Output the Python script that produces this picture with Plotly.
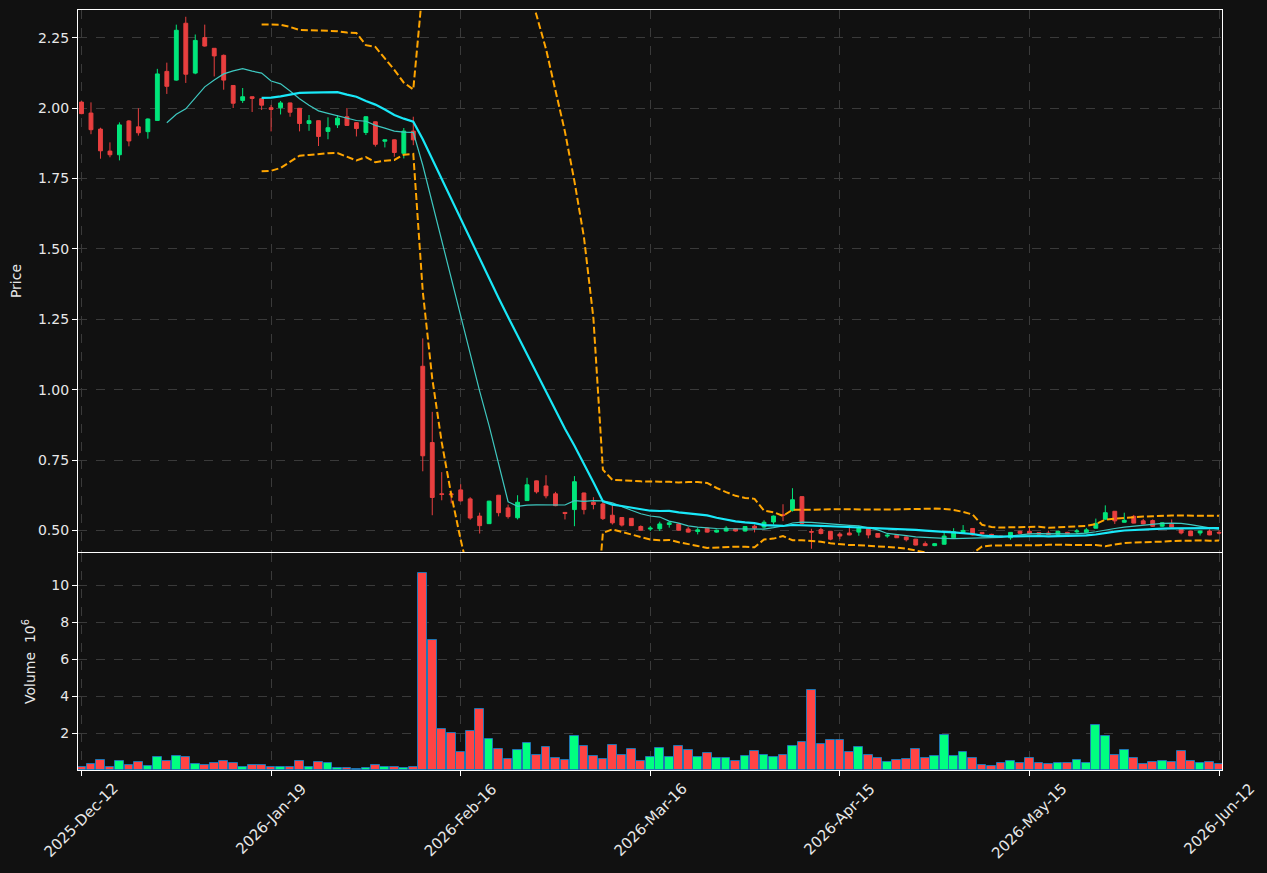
import plotly.graph_objects as go
import pandas as pd

# ---------------- data ----------------
opens = [2.021, 1.982, 1.925, 1.847, 1.834, 1.954, 1.933, 1.916, 1.956, 2.130,
         2.099, 2.301, 2.124, 2.250, 2.212, 2.187, 2.080, 2.027, 2.040, 2.033,
         2.001, 2.001, 2.018, 1.999, 1.945, 1.955, 1.917, 1.940, 1.969, 1.948,
         1.913, 1.951, 1.882, 1.887, 1.839, 1.918, 1.083, 0.812, 0.630, 0.630,
         0.644, 0.612, 0.551, 0.524, 0.625, 0.580, 0.545, 0.606, 0.676, 0.658,
         0.630, 0.564, 0.574, 0.633, 0.600, 0.594, 0.554, 0.546, 0.543, 0.514,
         0.505, 0.506, 0.521, 0.523, 0.505, 0.496, 0.508, 0.494, 0.498, 0.506,
         0.498, 0.515, 0.512, 0.530, 0.556, 0.571, 0.620, 0.496, 0.503, 0.497,
         0.487, 0.491, 0.494, 0.508, 0.489, 0.480, 0.483, 0.477, 0.469, 0.453,
         0.446, 0.451, 0.474, 0.493, 0.507, 0.493, 0.486, 0.480, 0.474, 0.497,
         0.497, 0.492, 0.491, 0.486, 0.493, 0.495, 0.493, 0.508, 0.540, 0.568,
         0.529, 0.550, 0.534, 0.535, 0.515, 0.522, 0.506, 0.498, 0.491, 0.498,
         0.493]
highs = [2.024, 2.020, 1.930, 1.878, 1.949, 1.957, 1.999, 1.963, 2.139, 2.161,
         2.296, 2.324, 2.261, 2.296, 2.213, 2.190, 2.081, 2.071, 2.041, 2.035,
         2.011, 2.025, 2.019, 2.000, 1.975, 1.956, 1.967, 1.975, 2.000, 1.949,
         1.970, 1.952, 1.888, 1.888, 1.929, 1.969, 1.182, 0.921, 0.707, 0.634,
         0.664, 0.618, 0.563, 0.605, 0.626, 0.592, 0.625, 0.687, 0.677, 0.696,
         0.637, 0.565, 0.693, 0.634, 0.618, 0.604, 0.590, 0.547, 0.543, 0.518,
         0.516, 0.531, 0.533, 0.525, 0.512, 0.510, 0.510, 0.503, 0.515, 0.507,
         0.515, 0.521, 0.536, 0.553, 0.593, 0.650, 0.621, 0.506, 0.510, 0.498,
         0.493, 0.511, 0.516, 0.509, 0.490, 0.488, 0.484, 0.478, 0.470, 0.461,
         0.455, 0.496, 0.508, 0.519, 0.508, 0.494, 0.488, 0.482, 0.494, 0.499,
         0.510, 0.494, 0.499, 0.498, 0.495, 0.505, 0.509, 0.542, 0.589, 0.569,
         0.563, 0.555, 0.541, 0.539, 0.528, 0.539, 0.507, 0.499, 0.499, 0.504,
         0.500]
lows = [1.978, 1.907, 1.820, 1.825, 1.814, 1.864, 1.902, 1.891, 1.955, 2.050,
        2.097, 2.089, 2.120, 2.218, 2.112, 2.065, 2.000, 2.018, 1.986, 1.993,
        1.917, 1.977, 1.969, 1.917, 1.919, 1.865, 1.889, 1.929, 1.937, 1.899,
        1.904, 1.863, 1.860, 1.827, 1.821, 1.868, 0.710, 0.554, 0.607, 0.596,
        0.603, 0.538, 0.489, 0.523, 0.550, 0.542, 0.539, 0.605, 0.631, 0.614,
        0.586, 0.539, 0.515, 0.557, 0.575, 0.537, 0.521, 0.514, 0.516, 0.500,
        0.498, 0.498, 0.510, 0.499, 0.492, 0.486, 0.492, 0.492, 0.496, 0.496,
        0.496, 0.493, 0.506, 0.521, 0.533, 0.567, 0.522, 0.435, 0.486, 0.465,
        0.469, 0.483, 0.481, 0.472, 0.475, 0.474, 0.473, 0.461, 0.447, 0.445,
        0.444, 0.450, 0.473, 0.492, 0.482, 0.486, 0.482, 0.477, 0.467, 0.488,
        0.487, 0.486, 0.485, 0.485, 0.487, 0.487, 0.492, 0.507, 0.538, 0.523,
        0.528, 0.525, 0.522, 0.513, 0.512, 0.511, 0.486, 0.480, 0.482, 0.483,
        0.486]
closes = [1.980, 1.923, 1.848, 1.834, 1.940, 1.883, 1.912, 1.961, 2.121, 2.077,
          2.276, 2.120, 2.240, 2.220, 2.185, 2.099, 2.017, 2.040, 2.034, 2.010,
          1.995, 2.018, 1.985, 1.945, 1.955, 1.899, 1.930, 1.964, 1.938, 1.927,
          1.969, 1.871, 1.887, 1.842, 1.918, 1.887, 0.765, 0.617, 0.628, 0.627,
          0.605, 0.544, 0.517, 0.604, 0.563, 0.549, 0.600, 0.662, 0.637, 0.623,
          0.588, 0.560, 0.673, 0.574, 0.592, 0.542, 0.527, 0.519, 0.517, 0.501,
          0.508, 0.523, 0.527, 0.501, 0.494, 0.502, 0.494, 0.501, 0.508, 0.498,
          0.514, 0.508, 0.529, 0.551, 0.553, 0.609, 0.525, 0.494, 0.489, 0.469,
          0.480, 0.484, 0.508, 0.484, 0.476, 0.483, 0.474, 0.467, 0.448, 0.446,
          0.453, 0.480, 0.495, 0.500, 0.484, 0.488, 0.484, 0.478, 0.493, 0.490,
          0.488, 0.487, 0.486, 0.497, 0.488, 0.498, 0.502, 0.525, 0.563, 0.534,
          0.536, 0.526, 0.523, 0.515, 0.527, 0.512, 0.491, 0.481, 0.498, 0.484,
          0.491]
volumes_m = [0.18, 0.31, 0.52, 0.14, 0.47, 0.25, 0.41, 0.23, 0.68, 0.47,
             0.74, 0.68, 0.31, 0.25, 0.36, 0.47, 0.36, 0.18, 0.25, 0.25,
             0.18, 0.18, 0.18, 0.47, 0.18, 0.41, 0.36, 0.09, 0.09, 0.04,
             0.09, 0.25, 0.14, 0.18, 0.09, 0.14, 10.63, 7.01, 2.20, 1.98,
             0.95, 2.09, 3.28, 1.69, 1.15, 0.58, 1.06, 1.44, 0.79, 1.23,
             0.63, 0.52, 1.82, 1.28, 0.74, 0.58, 1.33, 0.79, 1.12, 0.47,
             0.68, 1.17, 0.68, 1.28, 1.06, 0.68, 0.90, 0.63, 0.63, 0.47,
             0.74, 1.01, 0.79, 0.68, 0.79, 1.28, 1.50, 4.31, 1.39, 1.60,
             1.60, 0.95, 1.23, 0.79, 0.63, 0.41, 0.52, 0.58, 1.12, 0.63,
             0.74, 1.87, 0.74, 0.95, 0.63, 0.25, 0.20, 0.36, 0.47, 0.36,
             0.63, 0.36, 0.31, 0.36, 0.36, 0.52, 0.36, 2.41, 1.82, 0.79,
             1.06, 0.63, 0.31, 0.41, 0.47, 0.41, 1.01, 0.47, 0.36, 0.41,
             0.31]
tick_labels = ["2025-Dec-12", "2026-Jan-19", "2026-Feb-16", "2026-Mar-16",
               "2026-Apr-15", "2026-May-15", "2026-Jun-12"]
price_ticks = [0.50, 0.75, 1.00, 1.25, 1.50, 1.75, 2.00, 2.25]
volume_ticks = [2, 4, 6, 8, 10]
mav_periods = [10, 20]
bb_period = 20
bb_std = 2

# ---------------- styles ----------------
BG = "#111111"
UP_C = "#00e67b"
DN_C = "#e83f3f"
UP_V = "#00ff80"
DN_V = "#ff4444"
GRID = "#3a3a3a"
TXT = "#e8e8e8"
FONT = "DejaVu Sans"

n = len(closes)
x = list(range(n))
tick_pos = list(range(0, n, 20))
close_s = pd.Series(closes)
sma10 = close_s.rolling(mav_periods[0]).mean()
sma20 = close_s.rolling(mav_periods[1]).mean()
bb_mid = close_s.rolling(bb_period).mean()
bb_sd = close_s.rolling(bb_period).std()
bb_up = bb_mid + bb_std * bb_sd
bb_lo = bb_mid - bb_std * bb_sd

vol_colors = [UP_V if c >= o else DN_V for o, c in zip(opens, closes)]

fig = go.Figure()

# volume
fig.add_trace(go.Bar(x=x, y=volumes_m, xaxis="x", yaxis="y",
                     marker=dict(color=vol_colors, line=dict(color="#1f77b4", width=1)),
                     width=0.92, showlegend=False))

# candles
fig.add_trace(go.Candlestick(x=x, open=opens, high=highs, low=lows, close=closes,
                             xaxis="x2", yaxis="y2", whiskerwidth=0,
                             increasing=dict(line=dict(color=UP_C, width=1), fillcolor=UP_C),
                             decreasing=dict(line=dict(color=DN_C, width=1), fillcolor=DN_C),
                             showlegend=False))

# moving averages
fig.add_trace(go.Scatter(x=x, y=sma10, mode="lines", xaxis="x2", yaxis="y2",
                         line=dict(color="#3ec8c0", width=1.2), showlegend=False))
fig.add_trace(go.Scatter(x=x, y=sma20, mode="lines", xaxis="x2", yaxis="y2",
                         line=dict(color="#19e8f8", width=2.2), showlegend=False))

# bollinger bands
for band in (bb_up, bb_lo):
    fig.add_trace(go.Scatter(x=x, y=band, mode="lines", xaxis="x2", yaxis="y2",
                             line=dict(color="#ffa500", width=2, dash="7px,3px"),
                             showlegend=False))

xr = [-0.37, n - 1 + 0.31]
common_x = dict(range=xr, tickvals=tick_pos, showgrid=True,
                gridcolor=GRID, griddash="dash", gridwidth=1, zeroline=False,
                showline=True, mirror=True, linecolor="white", linewidth=1.3)
common_y = dict(showgrid=True, gridcolor=GRID, griddash="dash", gridwidth=1,
                zeroline=False, showline=True, mirror=True, linecolor="white",
                linewidth=1.3, ticks="outside", ticklen=5, tickcolor="white",
                tickfont=dict(size=14, color=TXT, family=FONT))

# x tick labels: rotated 45 degrees and centred on the tick (matplotlib style)
annotations = [dict(x=p, y=0, xref="x", yref="paper", text=lab, showarrow=False,
                    textangle=-45, xanchor="center", yanchor="top", yshift=-7,
                    font=dict(size=15, color=TXT, family=FONT))
               for p, lab in zip(tick_pos, tick_labels)]

fig.update_layout(
    width=1267, height=873,
    margin=dict(l=78, r=45, t=10, b=103),
    paper_bgcolor=BG, plot_bgcolor=BG,
    font=dict(family=FONT, size=14, color=TXT),
    boxgap=0.42,
    bargap=0,
    showlegend=False,
    annotations=annotations,
    xaxis=dict(domain=[0, 1], anchor="y", showticklabels=False,
               ticks="outside", ticklen=5, tickcolor="white",
               rangeslider=dict(visible=False), **common_x),
    xaxis2=dict(domain=[0, 1], anchor="y2", matches="x", showticklabels=False,
                rangeslider=dict(visible=False), **common_x),
    yaxis=dict(domain=[0, 0.2855], range=[0, 11.73], tickvals=volume_ticks,
               title=dict(text="Volume  10<sup>6</sup>", standoff=12,
                          font=dict(size=14, color=TXT, family=FONT)),
               **common_y),
    yaxis2=dict(domain=[0.2868, 1], range=[0.4233, 2.348], tickvals=price_ticks,
                tickformat=".2f",
                title=dict(text="Price", standoff=12,
                           font=dict(size=14, color=TXT, family=FONT)),
                **common_y),
)

fig.write_html("out.html")
